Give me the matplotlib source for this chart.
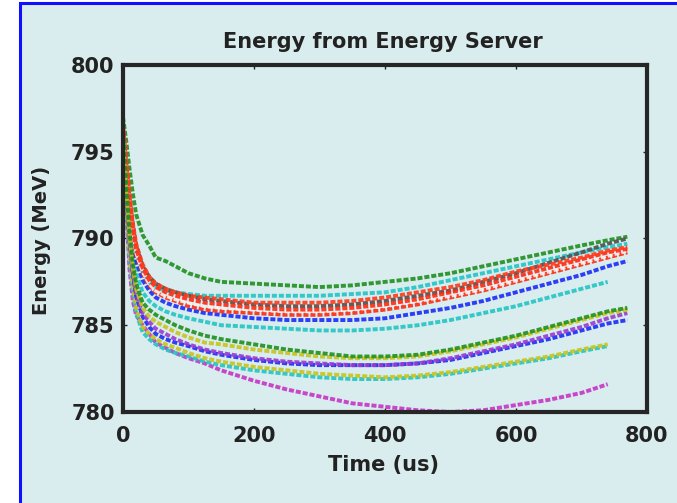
import matplotlib
matplotlib.use("Agg")
import matplotlib.pyplot as plt
from matplotlib.patches import Rectangle

# sample times (us)
t = [0, 5, 10, 15, 20, 30, 40, 50, 65, 80, 100, 125, 150, 200, 250, 300,
     350, 400, 450, 500, 550, 600, 650, 700, 740, 770]
t_short = t[:-1]

# energy traces (MeV), one per run
green_top = [797.0, 795.6, 794.0, 792.6, 791.4, 790.2, 789.6, 788.9, 788.7, 788.4, 788.0, 787.7, 787.5,
             787.4, 787.3, 787.2, 787.3, 787.5, 787.7, 788.0, 788.4, 788.8, 789.2, 789.6, 789.9, 790.1]
gray_a = [796.3, 794.2, 792.3, 790.8, 789.6, 788.4, 787.8, 787.4, 787.1, 786.9, 786.7, 786.5, 786.4,
          786.2, 786.1, 786.1, 786.2, 786.4, 786.7, 787.0, 787.5, 788.0, 788.6, 789.2, 789.7, 790.0]
cyan_a = [796.2, 794.0, 792.0, 790.5, 789.3, 788.1, 787.5, 787.2, 787.0, 786.9, 786.8, 786.7, 786.7,
          786.7, 786.7, 786.7, 786.8, 786.9, 787.2, 787.6, 788.0, 788.4, 788.8, 789.2, 789.5, 789.7]
red_a = [796.5, 794.3, 792.3, 790.6, 789.4, 788.3, 787.6, 787.2, 786.9, 786.7, 786.5, 786.3, 786.2,
         786.0, 785.9, 785.9, 786.0, 786.2, 786.5, 786.9, 787.3, 787.8, 788.3, 788.8, 789.2, 789.4]
red_b = [796.4, 794.0, 792.0, 790.3, 789.1, 788.0, 787.3, 786.9, 786.6, 786.4, 786.1, 785.9, 785.8,
         785.7, 785.6, 785.6, 785.7, 785.9, 786.2, 786.6, 787.0, 787.5, 788.0, 788.5, 788.9, 789.2]
red_c = [796.6, 794.5, 792.5, 790.9, 789.7, 788.5, 787.8, 787.4, 787.1, 786.9, 786.7, 786.6, 786.5,
         786.3, 786.3, 786.3, 786.4, 786.6, 786.9, 787.2, 787.6, 788.1, 788.5, 788.9, 789.3, 789.5]
white_a = [796.4, 794.1, 792.1, 790.4, 789.2, 788.1, 787.4, 787.0, 786.7, 786.5, 786.3, 786.1, 786.0,
           785.9, 785.8, 785.8, 785.9, 786.1, 786.4, 786.7, 787.1, 787.6, 788.1, 788.6, 789.0, 789.3]
blue_a = [796.0, 793.6, 791.5, 789.9, 788.7, 787.6, 787.0, 786.6, 786.3, 786.1, 785.9, 785.7, 785.6,
          785.4, 785.3, 785.3, 785.3, 785.4, 785.7, 786.0, 786.4, 786.9, 787.4, 787.9, 788.4, 788.7]
cyan_b = [796.0, 793.4, 791.0, 789.3, 788.0, 786.9, 786.4, 786.1, 785.8, 785.6, 785.4, 785.2, 785.0,
          784.9, 784.8, 784.7, 784.7, 784.8, 785.0, 785.3, 785.7, 786.1, 786.6, 787.1, 787.5]
green_low = [796.2, 793.0, 790.4, 788.6, 787.4, 786.3, 785.9, 785.6, 785.3, 785.0, 784.7, 784.4, 784.2,
             783.9, 783.6, 783.4, 783.2, 783.2, 783.3, 783.6, 784.0, 784.4, 784.9, 785.4, 785.8, 786.0]
yellow_a = [796.0, 792.8, 790.1, 788.3, 787.1, 786.0, 785.5, 785.2, 784.9, 784.6, 784.3, 784.0, 783.9,
            783.6, 783.4, 783.2, 783.1, 783.1, 783.2, 783.5, 783.9, 784.3, 784.8, 785.3, 785.7, 785.9]
purple_a = [795.9, 792.5, 789.8, 788.0, 786.8, 785.7, 785.2, 784.8, 784.5, 784.2, 783.9, 783.6, 783.4,
            783.1, 782.9, 782.8, 782.7, 782.7, 782.8, 783.1, 783.5, 783.9, 784.4, 784.9, 785.4, 785.7]
blue_b = [796.0, 792.6, 789.9, 788.0, 786.7, 785.5, 784.9, 784.5, 784.2, 784.0, 783.8, 783.5, 783.3,
          783.0, 782.8, 782.7, 782.7, 782.7, 782.8, 783.0, 783.4, 783.8, 784.2, 784.7, 785.1, 785.3]
yellow_b = [795.8, 792.0, 789.1, 787.3, 786.0, 784.9, 784.5, 784.2, 783.9, 783.7, 783.4, 783.1, 782.9,
            782.6, 782.4, 782.2, 782.1, 782.0, 782.1, 782.3, 782.6, 782.9, 783.2, 783.6, 783.9]
cyan_c = [795.7, 791.8, 788.8, 787.0, 785.7, 784.6, 784.2, 783.9, 783.6, 783.4, 783.2, 782.9, 782.7,
          782.4, 782.2, 782.0, 781.9, 781.9, 782.0, 782.2, 782.5, 782.8, 783.1, 783.5, 783.8]
magenta_a = [796.0, 791.5, 788.2, 786.4, 785.6, 785.0, 784.5, 784.0, 783.7, 783.4, 783.1, 782.8, 782.4,
             781.8, 781.3, 780.9, 780.5, 780.3, 780.1, 780.0, 780.1, 780.4, 780.7, 781.1, 781.6]

traces = [
    (t, green_top, "#1f8f1f"),
    (t_short, cyan_b, "#22c4c4"),
    (t, cyan_a, "#22c4c4"),
    (t, blue_a, "#1a2cf5"),
    (t, gray_a, "#505050"),
    (t, red_b, "#ff2a12"),
    (t, white_a, "#f4f4f4"),
    (t, red_a, "#ff2a12"),
    (t, red_c, "#ff3a1a"),
    (t_short, magenta_a, "#c634c6"),
    (t_short, cyan_c, "#22c4c4"),
    (t_short, yellow_b, "#c8c41e"),
    (t, blue_b, "#1a2cf5"),
    (t, purple_a, "#9a3ad0"),
    (t, yellow_a, "#c8c41e"),
    (t, green_low, "#1f8f1f"),
]

bg = "#d9ecee"
ink = "#222222"
fig = plt.figure(figsize=(6.77, 5.03), dpi=100)
fig.patch.set_facecolor("white")
fig.patches.append(Rectangle((20 / 677, -0.01), 1.0, 1 - 3 / 503 + 0.01,
                             transform=fig.transFigure, facecolor=bg,
                             edgecolor="#1010ff", linewidth=2.2, zorder=-10))

ax = fig.add_axes([123 / 677, 1 - 412 / 503, (647 - 123) / 677, (412 - 65) / 503])
ax.set_zorder(5)
ax.set_facecolor(bg)

for x, y, c in traces:
    ax.plot(x, y, color=c, lw=2.8, linestyle=(0, (1.3, 0.5)), alpha=0.9,
            dash_capstyle="butt")

ax.set_xlim(0, 800)
ax.set_ylim(780, 800)
ax.set_xticks([0, 200, 400, 600, 800])
ax.set_yticks([780, 785, 790, 795, 800])
ax.tick_params(direction="in", length=3, width=1, top=True, right=True,
               labelsize=15, colors=ink)
ax.tick_params(axis="x", pad=10)
ax.tick_params(axis="y", pad=6)
for lab in ax.get_xticklabels() + ax.get_yticklabels():
    lab.set_fontweight("bold")
for s in ax.spines.values():
    s.set_linewidth(3)
    s.set_color("#262626")

fig.text(383 / 677, 1 - 42 / 503, "Energy from Energy Server", ha="center", va="center",
         fontsize=15, fontweight="bold", color=ink)
fig.text(384 / 677, 1 - 465 / 503, "Time (us)", ha="center", va="center",
         fontsize=15, fontweight="bold", color=ink)
fig.text(42 / 677, 1 - 240 / 503, "Energy (MeV)", ha="center", va="center", rotation=90,
         fontsize=14, fontweight="bold", color=ink)

fig.savefig("out.png", dpi=100, facecolor=fig.get_facecolor())
